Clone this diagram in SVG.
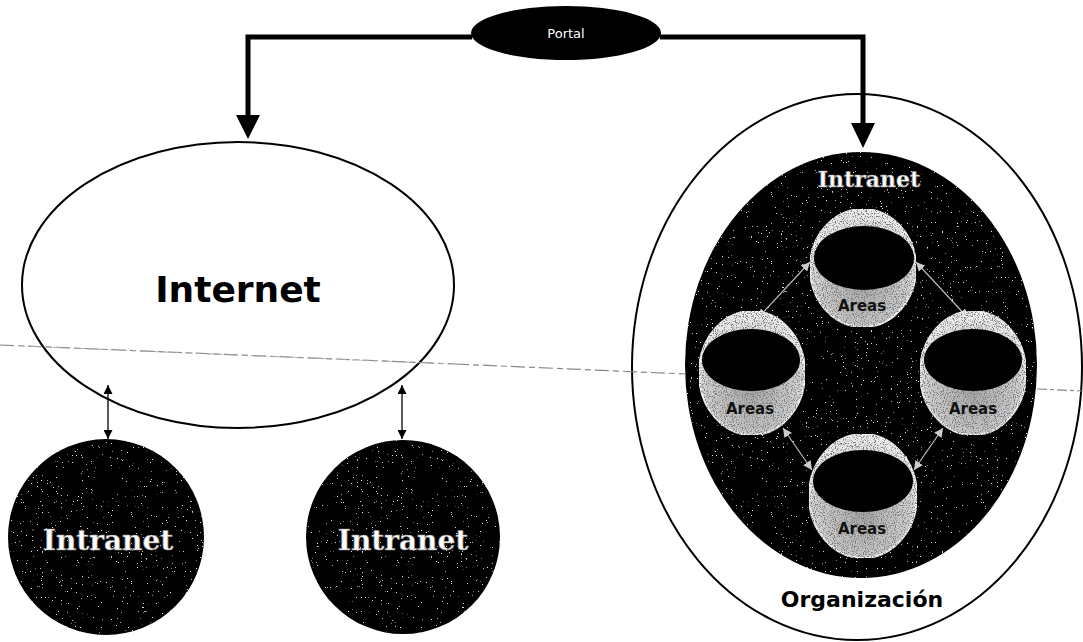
<svg xmlns="http://www.w3.org/2000/svg" width="1083" height="642" viewBox="0 0 1083 642">
<style>
.outline{fill:#fff;stroke:#000;stroke-width:2}
.dark{fill:#050505}
.big{font-family:"DejaVu Sans",Verdana,sans-serif;font-weight:bold;fill:#000}
.intra{font-family:"DejaVu Serif","Liberation Serif",serif;font-weight:bold;fill:#fff;stroke:#888;stroke-width:0.6}
.areas{font-family:"DejaVu Sans",Verdana,sans-serif;font-weight:bold;font-size:15px;fill:#111;text-anchor:middle}
.ring{fill:url(#ringGrad);stroke:#f4f4f4;stroke-width:2}
.thick{fill:none;stroke:#000;stroke-width:5}
.thin{fill:none;stroke:#000;stroke-width:1.3}
.gray{fill:none;stroke:#bbb;stroke-width:1.2}
</style>
<defs>
<radialGradient id="ringGrad" cx="50%" cy="65%" r="60%">
<stop offset="0" stop-color="#a8a8a8"/>
<stop offset="0.7" stop-color="#d0d0d0"/>
<stop offset="1" stop-color="#f0f0f0"/>
</radialGradient>
<filter id="speck" x="0" y="0" width="1" height="1">
<feTurbulence type="fractalNoise" baseFrequency="0.8" numOctaves="2" seed="5" result="n"/>
<feColorMatrix in="n" type="matrix" values="0 0 0 0 0.75  0 0 0 0 0.75  0 0 0 0 0.75  0 0 0 -24 6.2" result="m"/>
<feComposite in="m" in2="SourceGraphic" operator="in" result="c"/>
<feMerge><feMergeNode in="SourceGraphic"/><feMergeNode in="c"/></feMerge>
</filter>
<filter id="speck2" x="0" y="0" width="1" height="1">
<feTurbulence type="fractalNoise" baseFrequency="0.9" numOctaves="2" seed="9" result="n"/>
<feColorMatrix in="n" type="matrix" values="0 0 0 0 0.2  0 0 0 0 0.2  0 0 0 0 0.2  0 0 0 -5 2.6" result="m"/>
<feComposite in="m" in2="SourceGraphic" operator="in" result="c"/>
<feMerge><feMergeNode in="SourceGraphic"/><feMergeNode in="c"/></feMerge>
</filter>
<marker id="sa" viewBox="0 0 10 10" refX="10" refY="5" markerWidth="9" markerHeight="9" markerUnits="userSpaceOnUse" orient="auto-start-reverse">
<path d="M0,0 L10,5 L0,10 z" fill="#000"/>
</marker>
<marker id="ga" viewBox="0 0 10 10" refX="10" refY="5" markerWidth="9" markerHeight="9" markerUnits="userSpaceOnUse" orient="auto-start-reverse">
<path d="M0,0 L10,5 L0,10 z" fill="#ccc"/>
</marker>
</defs>
<rect width="1083" height="642" fill="#fff"/>

<g id="portal">
<ellipse cx="566" cy="33" rx="95" ry="27" fill="#000"/>
<text x="566" y="38" font-family="DejaVu Sans,sans-serif" font-size="13" fill="#fff" text-anchor="middle">Portal</text>
</g>

<g id="internet">
<ellipse class="outline" cx="238" cy="285" rx="216" ry="143"/>
<text class="big" x="238" y="302" font-size="36" text-anchor="middle">Internet</text>
</g>

<g id="intranet1">
<circle class="dark" cx="106" cy="537" r="98" filter="url(#speck)"/>
<text class="intra" x="108" y="550" font-size="28" text-anchor="middle">Intranet</text>
</g>

<g id="intranet2">
<circle class="dark" cx="403" cy="537" r="97" filter="url(#speck)"/>
<text class="intra" x="403" y="550" font-size="28" text-anchor="middle">Intranet</text>
</g>

<g id="organizacion">
<ellipse class="outline" cx="857" cy="367" rx="225" ry="273"/>
<ellipse class="dark" cx="861" cy="365" rx="176" ry="213" filter="url(#speck)"/>
<text class="intra" x="869" y="187" font-size="22" text-anchor="middle">Intranet</text>
<text class="big" x="862" y="607" font-size="22" text-anchor="middle">Organización</text>
</g>

<g id="area-connectors">
<line class="gray" x1="810" y1="262" x2="758" y2="318" marker-start="url(#ga)" marker-end="url(#ga)"/>
<line class="gray" x1="916" y1="262" x2="968" y2="318" marker-start="url(#ga)" marker-end="url(#ga)"/>
<line class="gray" x1="783" y1="428" x2="812" y2="470" marker-start="url(#ga)" marker-end="url(#ga)"/>
<line class="gray" x1="943" y1="428" x2="914" y2="470" marker-start="url(#ga)" marker-end="url(#ga)"/>
</g>

<g id="area-top">
<ellipse class="ring" cx="863" cy="268" rx="53" ry="59" filter="url(#speck2)"/>
<ellipse cx="864" cy="258" rx="50" ry="32" fill="#000"/>
<text class="areas" x="862" y="311">Areas</text>
</g>

<g id="area-left">
<ellipse class="ring" cx="752" cy="373" rx="53" ry="62" filter="url(#speck2)"/>
<ellipse cx="751" cy="360" rx="49" ry="31" fill="#000"/>
<text class="areas" x="750" y="414">Areas</text>
</g>

<g id="area-right">
<ellipse class="ring" cx="973" cy="373" rx="53" ry="62" filter="url(#speck2)"/>
<ellipse cx="973" cy="360" rx="49" ry="31" fill="#000"/>
<text class="areas" x="973" y="414">Areas</text>
</g>

<g id="area-bottom">
<ellipse class="ring" cx="863" cy="496" rx="54" ry="62" filter="url(#speck2)"/>
<ellipse cx="863" cy="481" rx="50" ry="31" fill="#000"/>
<text class="areas" x="862" y="534">Areas</text>
</g>

<g id="divider">
<line x1="0" y1="345" x2="455" y2="364" stroke="#888" stroke-width="1.2" stroke-dasharray="14,4,6,4"/>
<line x1="22" y1="346" x2="450" y2="364" stroke="#aaa" stroke-width="1" stroke-dasharray="3,6,8,5"/>
<line x1="455" y1="364" x2="686" y2="374" stroke="#888" stroke-width="1.2" stroke-dasharray="14,4,6,4"/>
<line x1="1037" y1="389" x2="1083" y2="391" stroke="#888" stroke-width="1.2" stroke-dasharray="10,3,4,3"/>
</g>

<g id="connectors">
<path class="thick" d="M472,37 H248 V116"/>
<polygon points="236,115 260,115 248,139" fill="#000"/>
<path class="thick" d="M660,37 H863 V124"/>
<polygon points="851,123 875,123 863,148" fill="#000"/>
<line class="thin" x1="108" y1="385" x2="108" y2="439" marker-start="url(#sa)" marker-end="url(#sa)"/>
<line class="thin" x1="402" y1="385" x2="402" y2="439" marker-start="url(#sa)" marker-end="url(#sa)"/>
</g>
</svg>
